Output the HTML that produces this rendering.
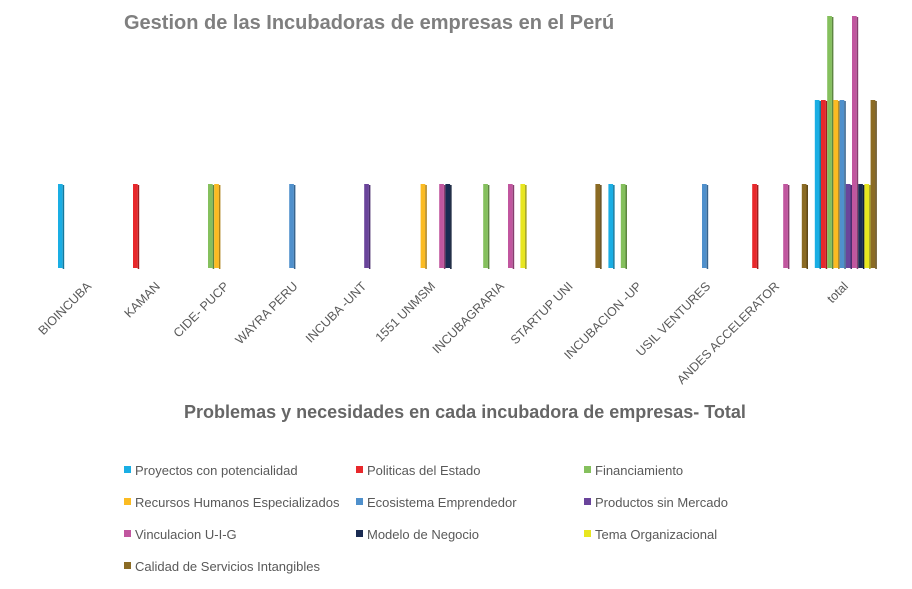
<!DOCTYPE html>
<html><head><meta charset="utf-8"><style>
body{margin:0;background:#fff;width:912px;height:584px;overflow:hidden;font-family:"Liberation Sans",sans-serif}
</style></head><body>
<svg id="chart" width="912" height="584">
<text x="124" y="29" font-size="20" font-weight="bold" fill="#7f7f7f">Gestion de las Incubadoras de empresas en el Perú</text>
<text x="465" y="418" text-anchor="middle" font-size="18" font-weight="bold" fill="#666">Problemas y necesidades en cada incubadora de empresas- Total</text>
<g id="bars"></g><g id="labels"></g><g id="legend"></g>
</svg>
<script>
const categories=["BIOINCUBA","KAMAN","CIDE- PUCP","WAYRA PERU","INCUBA -UNT","1551 UNMSM","INCUBAGRARIA","STARTUP UNI","INCUBACION -UP","USIL VENTURES","ANDES ACCELERATOR","total"];
const seriesNames=["Proyectos con potencialidad","Politicas del Estado","Financiamiento","Recursos Humanos Especializados","Ecosistema Emprendedor","Productos sin Mercado","Vinculacion U-I-G","Modelo de Negocio","Tema Organizacional","Calidad de Servicios Intangibles"];
const colors=["#1aaee4","#e8282b","#85c05d","#fbbb22","#4f90cc","#6a449b","#c1569f","#1a2b52","#e8e620","#8b6b24"];
const proyectos=[1,0,0,0,0,0,0,0,1,0,0,2];
const politicas=[0,1,0,0,0,0,0,0,0,0,1,2];
const financiamiento=[0,0,1,0,0,0,1,0,1,0,0,3];
const recursos=[0,0,1,0,0,1,0,0,0,0,0,2];
const ecosistema=[0,0,0,1,0,0,0,0,0,1,0,2];
const productos=[0,0,0,0,1,0,0,0,0,0,0,1];
const vinculacion=[0,0,0,0,0,1,1,0,0,0,1,3];
const modelo=[0,0,0,0,0,1,0,0,0,0,0,1];
const tema=[0,0,0,0,0,0,1,0,0,0,0,1];
const calidad=[0,0,0,0,0,0,0,1,0,0,1,2];
const series=[proyectos,politicas,financiamiento,recursos,ecosistema,productos,vinculacion,modelo,tema,calidad];
const NS="http://www.w3.org/2000/svg";
const x0=58,step=68.8,bw=6.2,base=268,unit=84;
const xs=i=>x0+i*step, ys=v=>base-v*unit;
function shade(c,f){const n=parseInt(c.slice(1),16);let r=n>>16,g=(n>>8)&255,b=n&255;return `rgb(${r*f|0},${g*f|0},${b*f|0})`;}
const bars=document.getElementById('bars');
series.forEach((s,j)=>{s.forEach((v,i)=>{if(!v)return;
 const x=xs(i)+j*bw,y=ys(v),h=base-y;
 const r=document.createElementNS(NS,'rect');
 r.setAttribute('x',x);r.setAttribute('y',y);r.setAttribute('width',bw-1.5);r.setAttribute('height',h);r.setAttribute('fill',colors[j]);
 
 
 bars.appendChild(r);
 const sd=document.createElementNS(NS,'rect');
 sd.setAttribute('x',x+bw-1.5);sd.setAttribute('y',y+1);sd.setAttribute('width',1.5);sd.setAttribute('height',h);sd.setAttribute('fill',shade(colors[j],0.7));
 
 
 bars.appendChild(sd);});});
const lg=document.getElementById('labels');
categories.forEach((c,i)=>{const cx=xs(i)+31+3;
 const t=document.createElementNS(NS,'text');
 t.setAttribute('x',cx);t.setAttribute('y',287);t.setAttribute('text-anchor','end');t.setAttribute('font-size','12.5');t.setAttribute('fill','#595959');
 t.setAttribute('transform',`rotate(-45 ${cx} 287)`);t.textContent=c;
 
 
 lg.appendChild(t);});
const leg=document.getElementById('legend');
const colX=[124,356,584];
seriesNames.forEach((n,j)=>{const x=colX[j%3],y=471+Math.floor(j/3)*32;
 const g=document.createElementNS(NS,'g');
 
 
 const r=document.createElementNS(NS,'rect');r.setAttribute('x',x);r.setAttribute('y',y-5);r.setAttribute('width',7);r.setAttribute('height',7);r.setAttribute('fill',colors[j]);g.appendChild(r);
 const t=document.createElementNS(NS,'text');t.setAttribute('x',x+11);t.setAttribute('y',y+4);t.setAttribute('font-size','13');t.setAttribute('fill','#595959');t.textContent=n;g.appendChild(t);
 leg.appendChild(g);});
</script>
</body></html>
